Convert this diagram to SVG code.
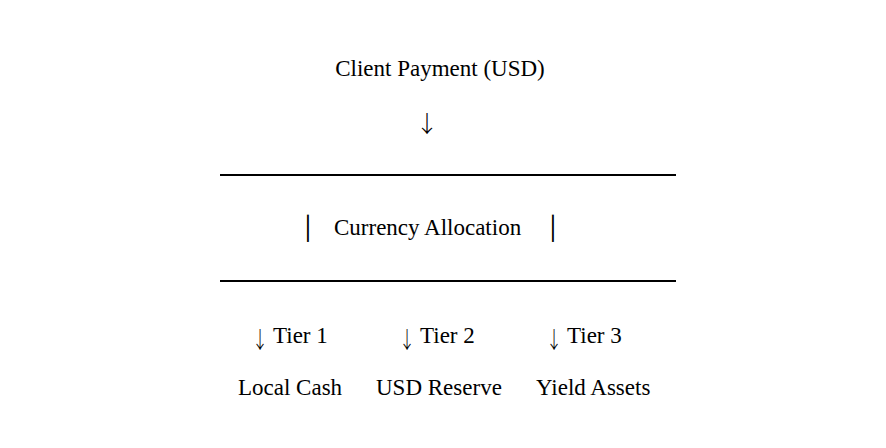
<svg xmlns="http://www.w3.org/2000/svg" width="886" height="448" viewBox="0 0 886 448">
<style>
text{font-family:"Liberation Serif","Times New Roman",serif;font-size:23px;fill:#000}
.arr{font-family:"Noto Sans CJK SC","DejaVu Sans",sans-serif;font-weight:300}
.bar{font-family:"DejaVu Sans",sans-serif}
.rule{stroke:#000;stroke-width:2}
</style>
<rect width="886" height="448" fill="#fff"/>
<g id="client-payment"><text x="440" y="76" text-anchor="middle">Client Payment (USD)</text></g>
<g id="connectors">
<text class="arr" x="427" y="132" text-anchor="middle">↓</text>
</g>
<g id="currency-allocation">
<line class="rule" x1="220" y1="175" x2="676" y2="175"/>
<text class="bar" x="308" y="236" text-anchor="middle">│</text>
<text x="334" y="235">Currency Allocation</text>
<text class="bar" x="553" y="236" text-anchor="middle">│</text>
<line class="rule" x1="220" y1="281" x2="676" y2="281"/>
</g>
<g id="tier1"><text class="arr" transform="translate(260,348) scale(0.7,1)" text-anchor="middle">↓</text><text x="273" y="343">Tier 1</text><text x="238" y="395">Local Cash</text></g>
<g id="tier2"><text class="arr" transform="translate(407,348) scale(0.7,1)" text-anchor="middle">↓</text><text x="420" y="343">Tier 2</text><text x="376" y="395">USD Reserve</text></g>
<g id="tier3"><text class="arr" transform="translate(554,348) scale(0.7,1)" text-anchor="middle">↓</text><text x="567" y="343">Tier 3</text><text x="536" y="395">Yield Assets</text></g>
</svg>
